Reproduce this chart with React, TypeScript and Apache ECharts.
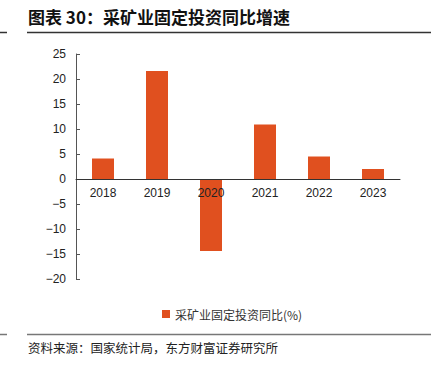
import React, { useEffect, useRef } from "react";
import * as echarts from "echarts";

const categories = ["2018", "2019", "2020", "2021", "2022", "2023"];
const values = [4.1, 21.6, -14.4, 10.9, 4.5, 2.0];
const seriesName = "采矿业固定投资同比(%)";
const titleText = "图表 30：采矿业固定投资同比增速";
const sourceText = "资料来源：国家统计局，东方财富证券研究所";
const yMin = -20;
const yMax = 25;

export default function App() {
  const ref = useRef<HTMLDivElement>(null);
  useEffect(() => {
    document.body.style.margin = "0";
    const chart = echarts.init(ref.current!, null, { renderer: "svg" });
    const font = "'Liberation Sans', Arial, sans-serif";
    const cjk = "'Noto Sans CJK SC', sans-serif";
    const gridTop = 54;
    const gridHeight = 225;
    const zeroOffset = -(gridHeight * (0 - yMin)) / (yMax - yMin);
    chart.setOption({
      animation: false,
      backgroundColor: "#fff",
      grid: { left: 76, right: 35, top: gridTop, height: gridHeight, containLabel: false },
      legend: {
        data: [seriesName],
        left: 157,
        top: 303,
        icon: "rect",
        itemWidth: 8,
        itemHeight: 8,
        itemGap: 4,
        textStyle: { fontSize: 12, color: "#333", fontFamily: cjk },
      },
      xAxis: {
        type: "category",
        data: categories,
        offset: zeroOffset,
        axisLine: { onZero: false, lineStyle: { color: "#333", width: 1 } },
        axisTick: { show: false },
        axisLabel: { color: "#222", fontSize: 12, fontFamily: font, margin: 8 },
        z: 10,
      },
      yAxis: {
        type: "value",
        min: yMin,
        max: yMax,
        interval: 5,
        splitLine: { show: false },
        axisLine: { show: true, lineStyle: { color: "#555", width: 1 } },
        axisTick: { show: true, inside: true, length: 4, lineStyle: { color: "#555" } },
        axisLabel: {
          color: "#222",
          fontSize: 12,
          fontFamily: font,
          margin: 10,
          formatter: (v: number) => (v < 0 ? "\u2212" + Math.abs(v) : String(v)),
        },
      },
      series: [
        {
          name: seriesName,
          type: "bar",
          data: values,
          barWidth: 22,
          itemStyle: { color: "#E0501F" },
        },
      ],
      graphic: [
        {
          type: "text",
          left: 28,
          top: 8,
          style: { text: titleText, fill: "#111", font: `bold 17px ${cjk}` },
        },
        { type: "line", shape: { x1: 0, y1: 32.5, x2: 7, y2: 32.5 }, style: { stroke: "#333", lineWidth: 1.5 } },
        { type: "line", shape: { x1: 27, y1: 32.5, x2: 431, y2: 32.5 }, style: { stroke: "#333", lineWidth: 1.5 } },
        { type: "line", shape: { x1: 0, y1: 334.5, x2: 7, y2: 334.5 }, style: { stroke: "#777", lineWidth: 1.5 } },
        { type: "line", shape: { x1: 27, y1: 334.5, x2: 431, y2: 334.5 }, style: { stroke: "#777", lineWidth: 1.5 } },
        {
          type: "text",
          left: 28,
          top: 341,
          style: { text: sourceText, fill: "#222", font: `12.5px ${cjk}` },
        },
      ],
    });
    return () => chart.dispose();
  }, []);
  return <div ref={ref} style={{ width: 435, height: 366 }} />;
}
